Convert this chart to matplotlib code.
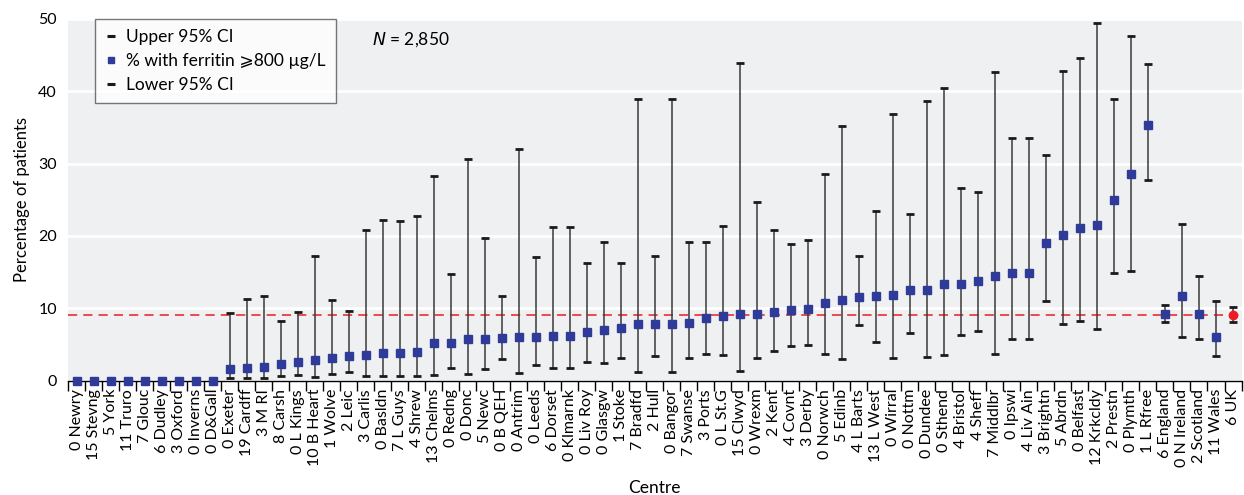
import matplotlib
matplotlib.use("Agg")
import matplotlib.pyplot as plt
from matplotlib.lines import Line2D
import numpy as np

plt.rcParams['font.family'] = ['Lato', 'DejaVu Sans']

# centre labels in plotting order
centres = ['0 Newry', '15 Stevng', '5 York', '11 Truro', '7 Glouc', '6 Dudley', '3 Oxford',
           '0 Inverns', '0 D&Gall', '0 Exeter', '19 Cardff', '3 M RI', '8 Carsh', '0 L Kings',
           '10 B Heart', '1 Wolve', '2 Leic', '3 Carlis', '0 Basldn', '7 L Guys', '4 Shrew',
           '13 Chelms', '0 Redng', '0 Donc', '5 Newc', '0 B QEH', '0 Antrim', '0 Leeds',
           '6 Dorset', '0 Klmarnk', '0 Liv Roy', '0 Glasgw', '1 Stoke', '7 Bradfd', '2 Hull',
           '0 Bangor', '7 Swanse', '3 Ports', '0 L St.G', '15 Clwyd', '0 Wrexm', '2 Kent',
           '4 Covnt', '3 Derby', '0 Norwch', '5 Edinb', '4 L Barts', '13 L West', '0 Wirral',
           '0 Nottm', '0 Dundee', '0 Sthend', '4 Bristol', '4 Sheff', '7 Middlbr', '0 Ipswi',
           '4 Liv Ain', '3 Brightn', '5 Abrdn', '0 Belfast', '12 Krkcldy', '2 Prestn',
           '0 Plymth', '1 L Rfree', '6 England', '0 N Ireland', '2 Scotland', '11 Wales', '6 UK']

# % with ferritin >= 800
pct = [0, 0, 0, 0, 0, 0, 0, 0, 0,
       1.6, 1.8, 1.9, 2.3, 2.6, 2.9, 3.1, 3.35, 3.5, 3.8, 3.8, 4.0,
       5.15, 5.25, 5.7, 5.7, 5.95, 6.0, 6.1, 6.15, 6.15, 6.7, 6.95, 7.3,
       7.85, 7.85, 7.85, 7.95, 8.7, 9.0, 9.2, 9.2, 9.5, 9.7, 9.95,
       10.8, 11.2, 11.6, 11.65, 11.9, 12.55, 12.55, 13.4, 13.4, 13.8, 14.4, 14.9, 14.9,
       19.0, 20.1, 21.1, 21.5, 25.0, 28.6, 35.4,
       9.15, 11.7, 9.2, 6.1, 9.05]

upper = [0, 0, 0, 0, 0, 0, 0, 0, 0,
         9.4, 11.3, 11.7, 8.3, 9.5, 17.3, 11.2, 9.6, 20.8, 22.2, 22.1, 22.8,
         28.3, 14.7, 30.6, 19.7, 11.7, 32.0, 17.1, 21.3, 21.3, 16.3, 19.2, 16.3,
         39.0, 17.2, 39.0, 19.2, 19.2, 21.4, 43.9, 24.7, 20.8, 18.85, 19.4,
         28.5, 35.2, 17.2, 23.5, 36.8, 23.1, 38.6, 40.5, 26.7, 26.1, 42.7, 33.5, 33.5,
         31.2, 42.8, 44.6, 49.4, 39.0, 47.6, 43.8,
         10.4, 21.6, 14.5, 10.95, 10.2]

lower = [0, 0, 0, 0, 0, 0, 0, 0, 0,
         0.3, 0.3, 0.35, 0.7, 0.75, 0.5, 0.9, 1.2, 0.6, 0.6, 0.6, 0.65,
         0.85, 1.8, 0.95, 1.55, 2.95, 1.0, 2.1, 1.7, 1.7, 2.6, 2.4, 3.15,
         1.25, 3.35, 1.25, 3.1, 3.75, 3.55, 1.4, 3.1, 4.15, 4.8, 4.9,
         3.65, 2.95, 7.7, 5.4, 3.1, 6.55, 3.25, 3.5, 6.25, 6.8, 3.75, 5.8, 5.8,
         10.95, 7.85, 8.25, 7.2, 14.9, 15.1, 27.7,
         8.1, 6.05, 5.75, 3.4, 8.05]

blue = '#2e3b98'
red = '#ec1c24'

fig = plt.figure(figsize=(12.44, 4.95), dpi=100)
ax = fig.add_axes([0.0547, 0.231, 0.9433, 0.7307])
ax.set_facecolor('#eff0f2')

x = np.arange(len(centres))
pct = np.array(pct)
upper = np.array(upper)
lower = np.array(lower)

# UK average as reference line
ax.axhline(pct[-1], color=red, lw=1.1, ls=(0, (6, 4)), zorder=2)

# CI whiskers
ax.vlines(x, lower, upper, color='#3a3a3a', lw=1.1, zorder=3)
ax.plot(x, upper, ls='none', marker='_', ms=5.5, mew=2, color='#1a1a1a', zorder=4, clip_on=False)
ax.plot(x, lower, ls='none', marker='_', ms=5.5, mew=2, color='#1a1a1a', zorder=4, clip_on=False)

# point estimates
ax.plot(x[:-1], pct[:-1], ls='none', marker='s', ms=5.2, color=blue, mec=blue, zorder=5, clip_on=False)
ax.plot(x[-1:], pct[-1:], ls='none', marker='o', ms=6, color=red, mec=red, zorder=5, clip_on=False)

ax.set_xlim(-0.5, len(centres) - 0.5)
ax.set_ylim(0, 50)
ax.set_yticks([0, 10, 20, 30, 40, 50])
ax.yaxis.grid(True, color='white', lw=2)
ax.set_axisbelow(True)
ax.tick_params(axis='y', length=0, labelsize=11.5, pad=8)

ax.set_xticks(x)
ax.set_xticklabels(centres, rotation=90, fontsize=11.5)
ax.set_xticks(np.arange(len(centres) + 1) - 0.5, minor=True)
ax.tick_params(axis='x', which='major', length=0, pad=6)
ax.tick_params(axis='x', which='minor', length=7, width=1, color='black', direction='out')

for s in ['top', 'right', 'left']:
    ax.spines[s].set_visible(False)
ax.spines['bottom'].set_color('black')
ax.spines['bottom'].set_linewidth(1)

ax.set_ylabel('Percentage of patients', fontsize=12, labelpad=6)
ax.set_xlabel('Centre', fontsize=12.5, labelpad=9)

ax.text(0.259, 0.942, r'$\it{N}$ = 2,850', transform=ax.transAxes, fontsize=12.5, va='center')

handles = [
    Line2D([], [], ls='none', marker='_', ms=6, mew=2.2, color='#1a1a1a'),
    Line2D([], [], ls='none', marker='s', ms=4.5, color=blue),
    Line2D([], [], ls='none', marker='_', ms=6, mew=2.2, color='#1a1a1a'),
]
names = ['Upper 95% CI', '% with ferritin ⩾800 µg/L', 'Lower 95% CI']
leg = ax.legend(handles, names, loc='upper left', bbox_to_anchor=(0.023, 1.0), borderaxespad=0,
                fontsize=12.5, frameon=True, fancybox=False, edgecolor='#555555',
                handlelength=0.6, handletextpad=0.6, labelspacing=0.45, borderpad=0.6)
leg.get_frame().set_linewidth(1)

fig.savefig('out.png', dpi=100)
